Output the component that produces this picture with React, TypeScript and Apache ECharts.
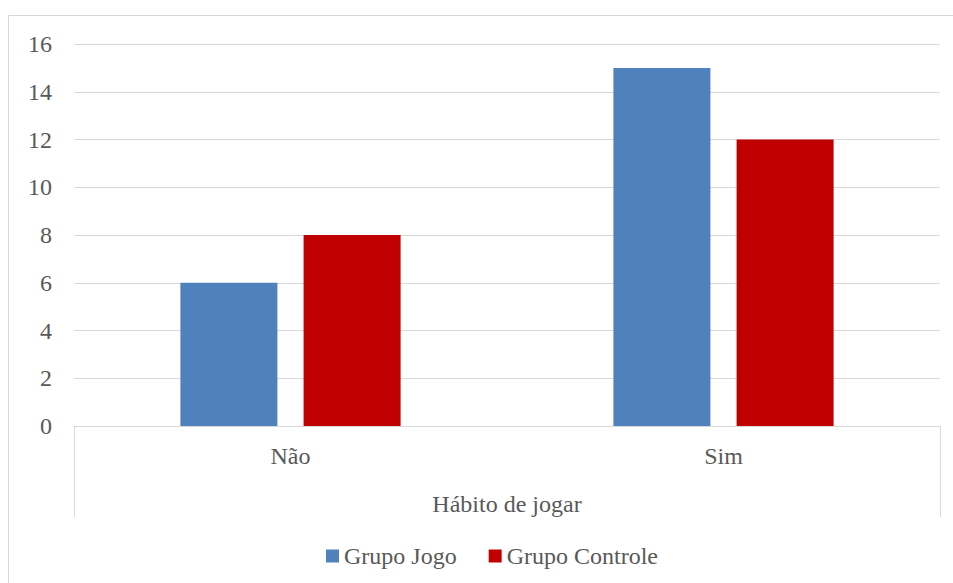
import React, { useEffect, useRef } from "react";
import * as echarts from "echarts";

const categories = ["Não", "Sim"];
const groupLabel = ["Hábito de jogar"];
const seriesNames = ["Grupo Jogo", "Grupo Controle"];
const grupoJogo = [6, 15];
const grupoControle = [8, 12];
const colors = ["#4f81bd", "#c00000"];

const FONT = "Liberation Serif";
const TEXT = "#595959";
const GRID = "#d9d9d9";

export default function App() {
  const ref = useRef<HTMLDivElement>(null);
  useEffect(() => {
    if (!ref.current) return;
    const chart = echarts.init(ref.current, undefined, { renderer: "svg" });
    chart.setOption({
      animation: false,
      backgroundColor: "#ffffff",
      textStyle: { fontFamily: FONT, color: TEXT },
      graphic: [
        {
          type: "rect",
          shape: { x: 8.5, y: 15.5, width: 1000, height: 700 },
          style: { fill: "none", stroke: GRID, lineWidth: 1 },
          silent: true,
          z: -1,
        },
      ],
      grid: { left: 74, right: 13, top: 44, bottom: 157, containLabel: false },
      legend: {
        top: 539,
        left: 321,
        itemWidth: 13,
        itemHeight: 13,
        itemGap: 32,
        icon: "rect",
        textStyle: { fontFamily: FONT, fontSize: 24, color: TEXT },
        data: seriesNames,
      },
      xAxis: [
        {
          type: "category",
          data: categories,
          position: "bottom",
          axisLine: { show: true, lineStyle: { color: GRID, width: 1 } },
          axisTick: { show: false },
          axisLabel: { fontFamily: FONT, fontSize: 24, color: TEXT, margin: 18 },
        },
        {
          type: "category",
          data: groupLabel,
          position: "bottom",
          axisLine: { show: false },
          axisTick: { show: true, length: 91, lineStyle: { color: GRID, width: 1 } },
          axisLabel: { fontFamily: FONT, fontSize: 24, color: TEXT, margin: 66 },
        },
      ],
      yAxis: {
        type: "value",
        min: 0,
        max: 16,
        interval: 2,
        axisLine: { show: false },
        axisTick: { show: false },
        axisLabel: { fontFamily: FONT, fontSize: 24, color: TEXT, margin: 22 },
        splitLine: { lineStyle: { color: GRID, width: 1 } },
      },
      series: [
        {
          name: seriesNames[0],
          type: "bar",
          data: grupoJogo,
          barWidth: 97,
          barGap: "27%",
          itemStyle: { color: colors[0] },
        },
        {
          name: seriesNames[1],
          type: "bar",
          data: grupoControle,
          barWidth: 97,
          barGap: "27%",
          itemStyle: { color: colors[1] },
        },
      ],
    });
    return () => chart.dispose();
  }, []);
  return (
    <div
      ref={ref}
      style={{ position: "fixed", left: 0, top: 0, width: 953, height: 583 }}
    />
  );
}
